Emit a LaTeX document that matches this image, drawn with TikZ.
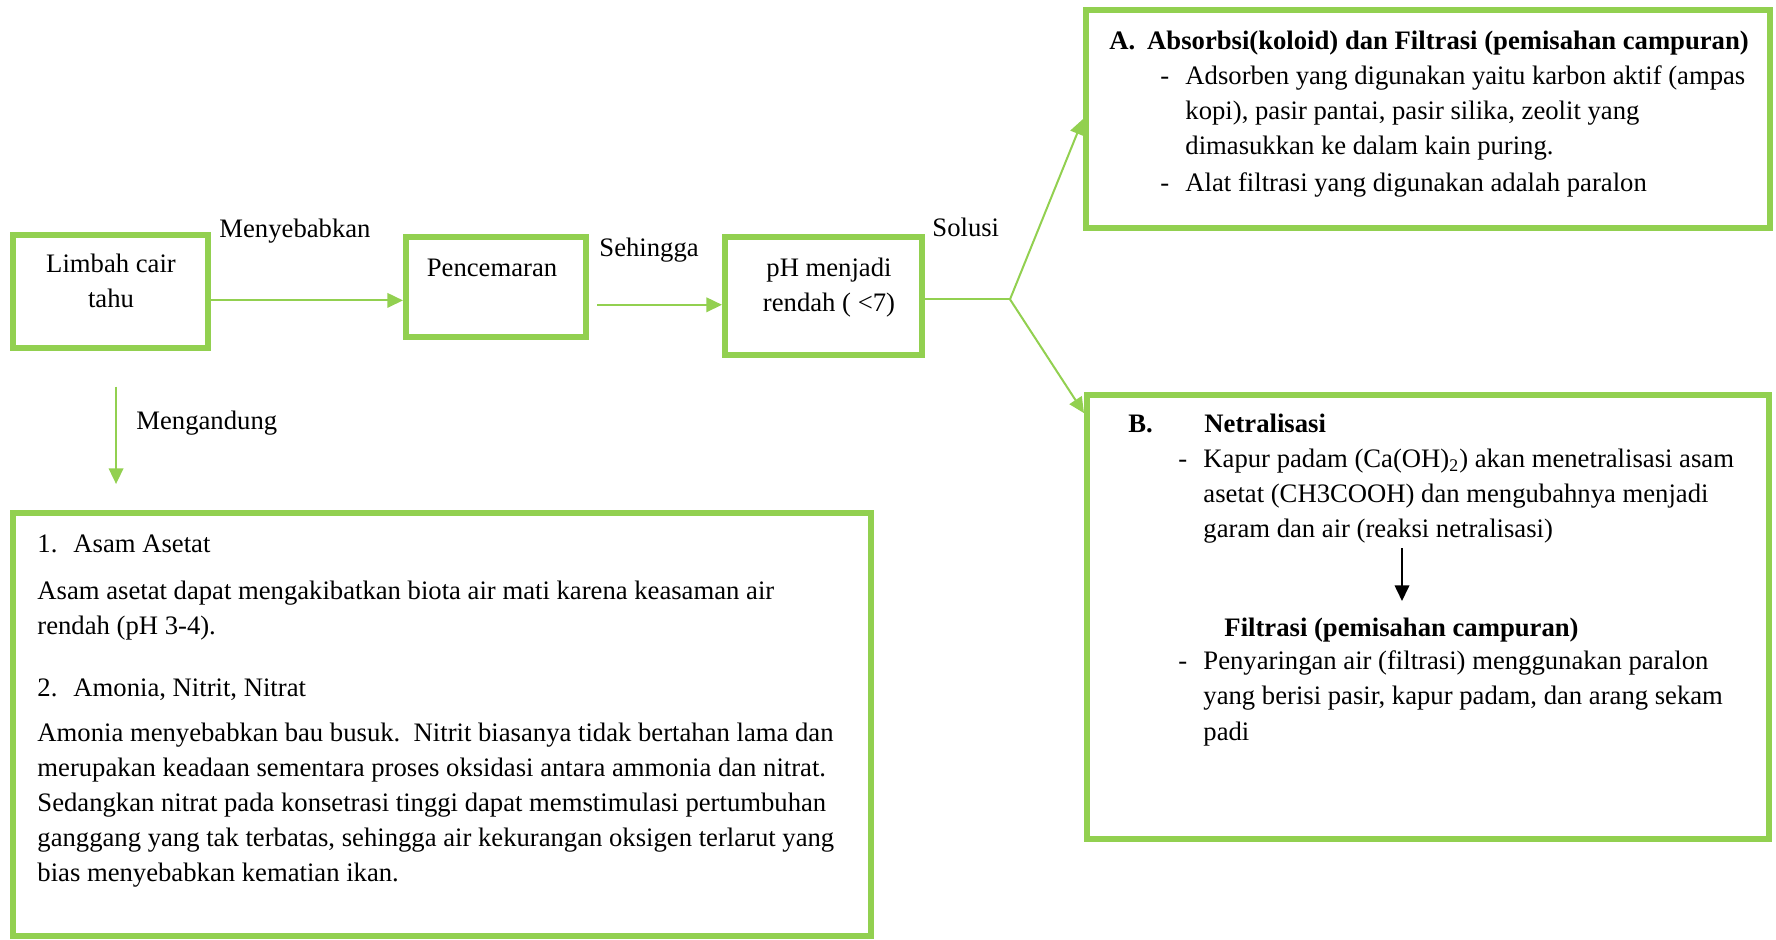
\documentclass[tikz,border=0pt]{standalone}
\usepackage{fontspec}
\setmainfont{Liberation Serif}
\usetikzlibrary{arrows.meta}
\definecolor{leafgreen}{RGB}{146,208,80}
\tikzstyle{green box}=[
        draw = leafgreen,
        line width = 2.7pt,
        inner sep = 0pt,
        rectangle
    ]
\tikzstyle{green arrow}=[
        draw = leafgreen,
        line width = 0.9pt,
        -{Triangle[length=7pt,width=6.5pt]}
    ]
\tikzstyle{black arrow}=[
        draw = black,
        line width = 0.9pt,
        -{Triangle[length=7pt,width=6.5pt]}
    ]
\tikzstyle{word}=[
        font = \fontsize{12}{15.8}\selectfont,
        inner sep = 0pt,
        anchor = base west
    ]
\tikzstyle{head}=[word, font = \fontsize{12}{15.8}\selectfont\bfseries]
\tikzstyle{para}=[word, text width = 480pt, align = flush left]

\begin{document}
\begin{tikzpicture}[x=0.45pt, y=-0.45pt]
        \useasboundingbox (0,0) rectangle (1776,939);

        % boxes
        \node[green box, minimum width=87.75pt, minimum height=50.85pt] (limbah) at (110.5,291.5) {};
        \node[green box, minimum width=81pt, minimum height=45pt] (cemar) at (496,287) {};
        \node[green box, minimum width=88.65pt, minimum height=53.1pt] (ph) at (823.5,296) {};
        \node[green box, minimum width=307.8pt, minimum height=98.1pt] (solusiA) at (1428,119) {};
        \node[green box, minimum width=306.9pt, minimum height=199.8pt] (solusiB) at (1428,617) {};
        \node[green box, minimum width=386.1pt, minimum height=190.35pt] (kandungan) at (442,724.5) {};

        % flow texts
        \node[word, anchor=base, text width=80pt, align=flush center] (limbahT) at (111,272) {Limbah cair\\tahu};
        \node[word, anchor=base] (cemarT) at (492,276) {Pencemaran};
        \node[word, anchor=base, text width=80pt, align=flush center] (phT) at (829,276) {pH menjadi\\rendah ( <7)};

        \node[word] (lblSebab) at (219,237) {Menyebabkan};
        \node[word] (lblHingga) at (599,256) {Sehingga};
        \node[word] (lblSolusi) at (932,236) {Solusi};
        \node[word] (lblKandung) at (136,429) {Mengandung};

        \draw[green arrow] ([yshift=-4pt]limbah.east) -- ([yshift=-4pt]limbah.east -| cemar.west);
        \draw[green arrow, shorten <=3.6pt] ([yshift=-8pt]cemar.east) -- ([yshift=-8pt]cemar.east -| ph.west);
        \draw[leafgreen, line width=0.9pt] ([yshift=-1.5pt]ph.east) -- ++(85,0) coordinate (fork);
        \draw[green arrow] (fork) -- (solusiA.west);
        \draw[green arrow] (fork) -- ([yshift=-9.5pt]solusiB.north west);
        \draw[green arrow, shorten <=16pt, shorten >=11.7pt] ([xshift=2.5pt]limbah.south) -- ([xshift=2.5pt]limbah.south |- kandungan.north);

        % solution A
        \node[head] (titleA) at (1109,49) {\makebox[17pt][l]{A.}Absorbsi(koloid) dan Filtrasi (pemisahan campuran)};
        \node[word] (dashA1) at (1160,84) {-};
        \node[para] (itemA1) at (1185,84) {Adsorben yang digunakan yaitu karbon aktif (ampas\\kopi), pasir pantai, pasir silika, zeolit yang\\dimasukkan ke dalam kain puring.};
        \node[word] (dashA2) at (1160,191) {-};
        \node[para] (itemA2) at (1185,191) {Alat filtrasi yang digunakan adalah paralon};

        % solution B
        \node[head] (titleB) at (1128,432) {\makebox[34.2pt][l]{B.}Netralisasi};
        \node[word] (dashB1) at (1178,467) {-};
        \node[para] (netral) at (1203,467) {Kapur padam (Ca(OH)\textsubscript{2}) akan menetralisasi asam\\asetat (CH3COOH) dan mengubahnya menjadi\\garam dan air (reaksi netralisasi)};
        \coordinate (reaksiTop) at (1402,548);
        \coordinate (reaksiEnd) at (1402,601);
        \draw[black arrow] (reaksiTop) -- (reaksiEnd);
        \node[head] (filtrasiB) at (1224,636) {Filtrasi (pemisahan campuran)};
        \node[word] (dashB2) at (1178,669) {-};
        \node[para, font=\fontsize{12}{16.1}\selectfont] (saring) at (1203,669) {Penyaringan air (filtrasi) menggunakan paralon\\yang berisi pasir, kapur padam, dan arang sekam\\padi};

        % contents
        \node[word] (num1) at (37,552) {1.};
        \node[word] (asetat) at (73,552) {Asam Asetat};
        \node[para] (asetatT) at (37,599) {Asam asetat dapat mengakibatkan biota air mati karena keasaman air\\rendah (pH 3-4).};
        \node[word] (num2) at (37,696) {2.};
        \node[word] (amonia) at (73,696) {Amonia, Nitrit, Nitrat};
        \node[para] (amoniaT) at (37,741) {Amonia menyebabkan bau busuk.\ \ Nitrit biasanya tidak bertahan lama dan\\merupakan keadaan sementara proses oksidasi antara ammonia dan nitrat.\\Sedangkan nitrat pada konsetrasi tinggi dapat memstimulasi pertumbuhan\\ganggang yang tak terbatas, sehingga air kekurangan oksigen terlarut yang\\bias menyebabkan kematian ikan.};

    \end{tikzpicture}
\end{document}
